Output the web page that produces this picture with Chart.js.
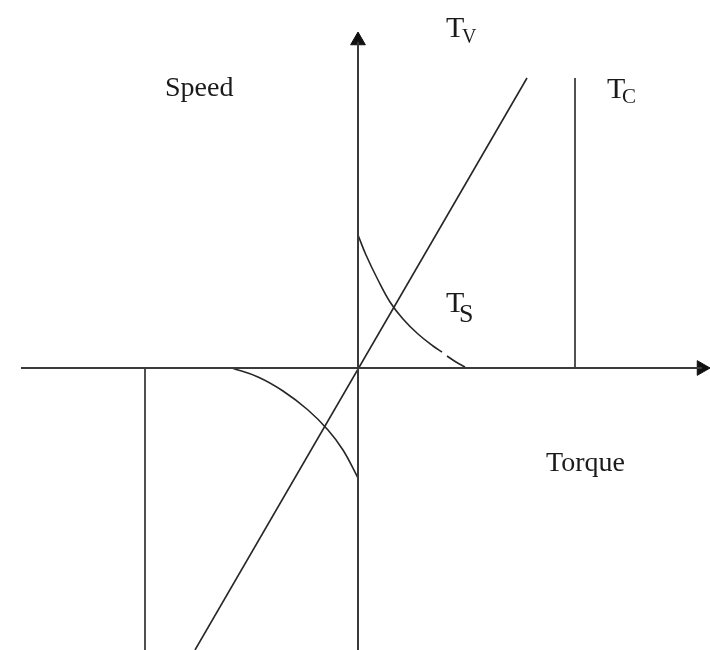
<!DOCTYPE html>
<html>
<head>
<meta charset="utf-8">
<title>Friction model</title>
<script src="https://cdn.jsdelivr.net/npm/chart.js@4"></script>
<style>
    html, body { margin: 0; padding: 0; background: #fff; }
    #wrap { width: 710px; height: 650px; position: relative; }
</style>
</head>
<body>
<div id="wrap"><canvas id="friction-chart"></canvas></div>
<script>
'use strict';

// eixos (unidades arbitrarias, origem no cruzamento)
const axisHX = [-33.7, 34.4];
const axisHY = [0, 0];
const axisVX = [0, 0];
const axisVY = [-28.2, 32.6];

// Tv - atrito viscoso
const tvX = [-16.3, 16.9];
const tvY = [-28.2, 29.0];

// Tc - atrito de Coulomb
const tcPosX = [21.7, 21.7];
const tcPosY = [0, 29.0];
const tcNegX = [-21.3, -21.3];
const tcNegY = [0, -28.2];

// Ts - atrito estatico (Stribeck)
const tsPosX = [0, 0.8, 2.0, 3.2, 4.5, 6.0, 7.5, 8.4];
const tsPosY = [13.3, 11.3, 8.8, 6.6, 4.9, 3.4, 2.2, 1.6];
const tsTailX = [8.9, 9.8, 10.7];
const tsTailY = [1.2, 0.6, 0.1];
const tsNegX = [-12.6, -10.0, -7.5, -5.0, -3.0, -1.5, -0.05];
const tsNegY = [0, -0.9, -2.3, -4.2, -6.2, -8.2, -10.9];

const arrowUp = { x: 0, y: 32.75 };
const arrowRight = { x: 34.35, y: 0 };

const INK = '#262626';

const toPoints = (xs, ys) => xs.map((x, i) => ({ x, y: ys[i] }));

function lineSet(xs, ys, extra = {}) {
    return {
        data: toPoints(xs, ys),
        showLine: true,
        borderColor: INK,
        borderWidth: 1.6,
        pointRadius: 0,
        fill: false,
        ...extra
    };
}

const textLabels = [
    { text: 'Speed', x: -19.3, y: 27.2, size: 28 },
    { text: 'T', x: 8.8, y: 33.1, size: 30 },
    { text: 'V', x: 10.4, y: 32.5, size: 20 },
    { text: 'T', x: 24.9, y: 27.0, size: 30 },
    { text: 'C', x: 26.4, y: 26.5, size: 21 },
    { text: 'T', x: 8.8, y: 5.6, size: 30 },
    { text: 'S', x: 10.1, y: 4.6, size: 26 },
    { text: 'Torque', x: 18.8, y: -10.3, size: 28 }
];

const labelsPlugin = {
    id: 'diagramLabels',
    afterDatasetsDraw(chart) {
        const { ctx, scales } = chart;
        ctx.save();
        ctx.fillStyle = '#1a1a1a';
        ctx.textBaseline = 'alphabetic';
        ctx.textAlign = 'left';
        textLabels.forEach(l => {
            ctx.font = `${l.size}px "Liberation Serif", "Times New Roman", serif`;
            ctx.fillText(l.text, scales.x.getPixelForValue(l.x), scales.y.getPixelForValue(l.y));
        });
        ctx.restore();
    }
};

new Chart(document.getElementById('friction-chart'), {
    type: 'scatter',
    data: {
        datasets: [
            lineSet(axisHX, axisHY, { borderWidth: 2, borderColor: '#3a3a3a' }),
            lineSet(axisVX, axisVY, { borderWidth: 2, borderColor: '#3a3a3a' }),
            lineSet(tvX, tvY),
            lineSet(tcPosX, tcPosY),
            lineSet(tcNegX, tcNegY),
            lineSet(tsPosX, tsPosY, { tension: 0.4 }),
            lineSet(tsTailX, tsTailY, { tension: 0.4 }),
            lineSet(tsNegX, tsNegY, { tension: 0.4 }),
            {
                data: [arrowUp],
                pointStyle: 'triangle',
                pointRadius: 8.5,
                rotation: 0,
                backgroundColor: '#111',
                borderColor: '#111',
                borderWidth: 1
            },
            {
                data: [arrowRight],
                pointStyle: 'triangle',
                pointRadius: 8.5,
                rotation: 90,
                backgroundColor: '#111',
                borderColor: '#111',
                borderWidth: 1
            }
        ]
    },
    options: {
        responsive: true,
        maintainAspectRatio: false,
        animation: false,
        layout: { padding: 0, autoPadding: false },
        plugins: { legend: { display: false }, tooltip: { enabled: false } },
        elements: { line: { tension: 0 } },
        scales: {
            x: { type: 'linear', min: -35.8, max: 35.2, display: false },
            y: { type: 'linear', min: -28.2, max: 36.8, display: false }
        }
    },
    plugins: [labelsPlugin]
});
</script>
</body>
</html>
